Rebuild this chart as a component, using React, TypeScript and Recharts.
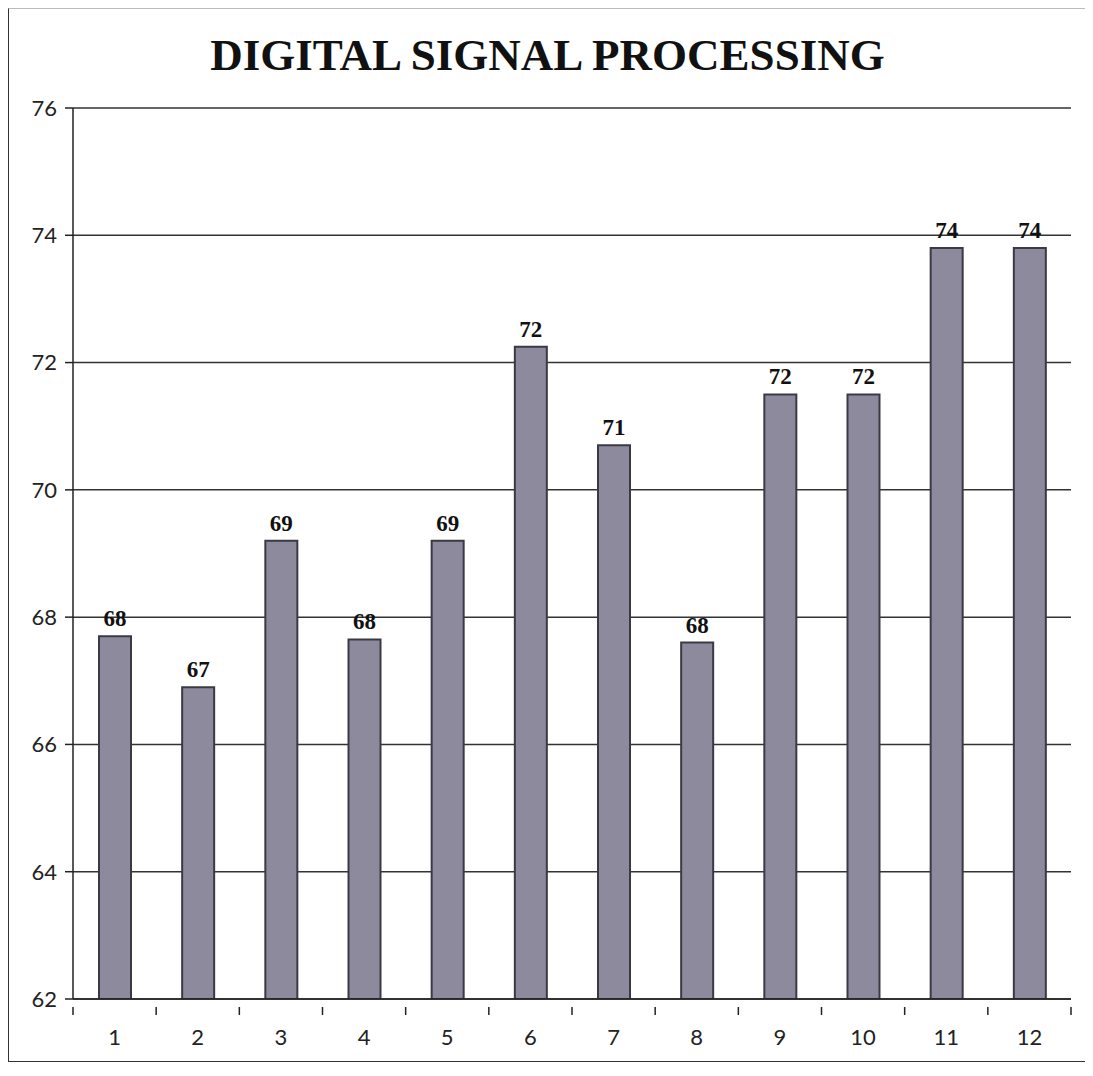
import React from "react";
import { BarChart, Bar, XAxis, YAxis, CartesianGrid, LabelList } from "recharts";

const categories = ["1", "2", "3", "4", "5", "6", "7", "8", "9", "10", "11", "12"];
const scores = [67.7, 66.9, 69.2, 67.65, 69.2, 72.25, 70.7, 67.6, 71.5, 71.5, 73.8, 73.8];
const yTicks = [62, 64, 66, 68, 70, 72, 74, 76];
const title = "DIGITAL SIGNAL PROCESSING";

const data = categories.map((c, i) => ({ name: c, value: scores[i] }));

const CHART_W = 1077;
const CHART_H = 1052;
const M = { top: 99, right: 15, left: 0, bottom: 12 };
const Y_W = 64;
const PLOT_W = CHART_W - M.left - M.right - Y_W;
const BAND = PLOT_W / categories.length;

const XTick = (props: any) => {
  const { x, y, payload, index } = props;
  return (
    <g>
      <line x1={x - BAND / 2} y1={y} x2={x - BAND / 2} y2={y + 8} stroke="#222" strokeWidth={1.5} />
      {index === categories.length - 1 && (
        <line x1={x + BAND / 2} y1={y} x2={x + BAND / 2} y2={y + 8} stroke="#222" strokeWidth={1.5} />
      )}
      <text x={x} y={y + 38} textAnchor="middle" fontSize={22} fill="#222" fontFamily="Lato, 'Open Sans', sans-serif">
        {payload.value}
      </text>
    </g>
  );
};

export default function App() {
  return (
    <div style={{ position: "relative", width: CHART_W, height: CHART_H, borderLeft: "1.5px solid #333", borderBottom: "1.5px solid #333", borderTop: "1px solid #bbb", background: "#fff" }}>
      <div
        style={{
          position: "absolute",
          left: 0,
          width: CHART_W,
          top: 20,
          textAlign: "center",
          fontFamily: "'Liberation Serif', 'DejaVu Serif', serif",
          fontWeight: "bold",
          fontSize: 45,
          color: "#111",
        }}
      >
        {title}
      </div>
      <BarChart width={CHART_W} height={CHART_H} data={data} margin={M}>
        <CartesianGrid vertical={false} stroke="#333" strokeWidth={1.5} />
        <XAxis
          dataKey="name"
          axisLine={{ stroke: "#222", strokeWidth: 1.5 }}
          tickLine={false}
          tick={<XTick />}
          height={50}
          interval={0}
        />
        <YAxis
          domain={[62, 76]}
          ticks={yTicks}
          allowDataOverflow
          width={Y_W}
          axisLine={{ stroke: "#222", strokeWidth: 1.5 }}
          tickLine={{ stroke: "#222", strokeWidth: 1.5 }}
          tickSize={8}
          tickMargin={8}
          tick={{ fontSize: 22, fill: "#222", fontFamily: "Lato, 'Open Sans', sans-serif" }}
        />
        <Bar dataKey="value" fill="#8c8a9c" stroke="#3a3a44" strokeWidth={2} barSize={32} isAnimationActive={false}>
          <LabelList
            dataKey="value"
            position="top"
            offset={10}
            formatter={(v: any) => Math.round(Number(v))}
            style={{ fontFamily: "'Liberation Serif', serif", fontWeight: "bold", fontSize: 23, fill: "#111" }}
          />
        </Bar>
      </BarChart>
    </div>
  );
}
